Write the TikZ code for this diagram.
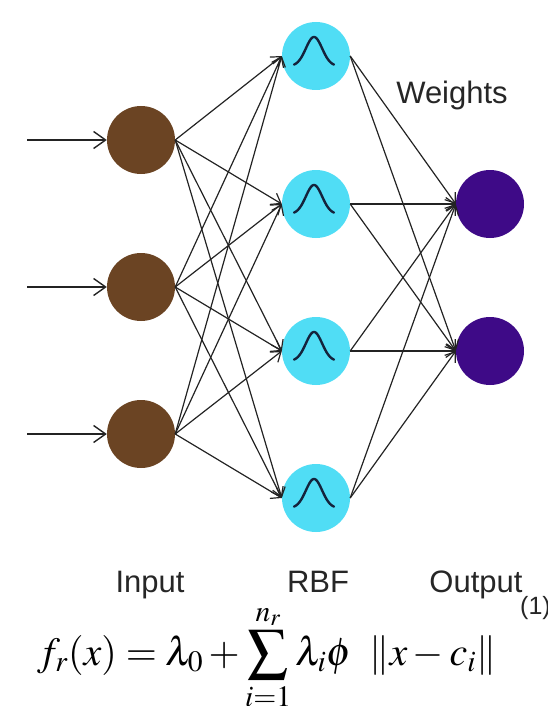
\documentclass[tikz,border=0pt]{standalone}
\usepackage{mathptmx}
\usepackage{fontspec}
\setmainfont{Liberation Sans}
\usetikzlibrary{arrows.meta}
\definecolor{inbrown}{RGB}{107,68,35}
\definecolor{rbfcyan}{RGB}{80,221,245}
\definecolor{outpurple}{RGB}{62,10,135}
\definecolor{linegray}{RGB}{35,35,35}
\definecolor{bellnavy}{RGB}{20,35,60}
\tikzset{
  neuron/.style={circle, minimum size=68pt, inner sep=0pt, draw=none},
  innode/.style={neuron, fill=inbrown},
  rbfnode/.style={neuron, fill=rbfcyan},
  outnode/.style={neuron, fill=outpurple},
  conn/.style={draw=linegray, line width=1.2pt, -{Straight Barb[length=9pt,width=13pt,line width=1.2pt]}},
  inarrow/.style={draw=linegray, line width=1.4pt, -{Straight Barb[length=12pt,width=17pt,line width=1.4pt]}},
  bell/.style={draw=bellnavy, line width=2.4pt, line cap=round},
  lbl/.style={font=\fontsize{31}{36}\selectfont, text=black!85, inner sep=0pt}
}
\begin{document}
\begin{tikzpicture}[x=1pt,y=-1pt]
\useasboundingbox (0,0) rectangle (548,706);
% nodes
\node[innode] (in1) at (141,140) {};
\node[innode] (in2) at (141,287) {};
\node[innode] (in3) at (141,434) {};
\node[rbfnode] (rbf1) at (316,56) {};
\node[rbfnode] (rbf2) at (316,204) {};
\node[rbfnode] (rbf3) at (316,351) {};
\node[rbfnode] (rbf4) at (316,498) {};
\node[outnode] (out1) at (490,204) {};
\node[outnode] (out2) at (490,351) {};
% bell curves
\foreach \j in {1,...,4}{
  \begin{scope}[shift={(rbf\j.center)}]
    \draw[bell] plot[domain=-22:18, samples=60, smooth] (\x, {10 - 29*exp(-((\x+2)/11.5)^2)});
  \end{scope}
}
% input arrows
\coordinate (s1) at (27,140);
\coordinate (s2) at (27,287);
\coordinate (s3) at (27,434);
\foreach \i in {1,2,3}{
  \draw[inarrow] (s\i) -- (in\i.west);
}
% input to rbf
\foreach \i in {1,2,3}{
  \foreach \j in {1,...,4}{
    \draw[conn] (in\i.east) -- (rbf\j.west);
  }
}
% rbf to output
\foreach \j in {1,...,4}{
  \foreach \k in {1,2}{
    \draw[conn] (rbf\j.east) -- (out\k.west);
  }
}
% labels
\node[lbl, anchor=base] (wlbl) at (452,104) {Weights};
\node[lbl, anchor=base] (ilbl) at (150,592) {Input};
\node[lbl, anchor=base] (rlbl) at (318,592) {RBF};
\node[lbl, anchor=base] (olbl) at (476,592) {Output};
% formula
\node[anchor=base west, inner sep=0pt, font=\fontsize{40}{44}\selectfont] (eq) at (37,665)
  {$\displaystyle f_r(x) = \lambda_0 + \sum_{i=1}^{n_r}\lambda_i\phi\;\;\|x-c_i\|$};
\node[anchor=base west, inner sep=0pt, font=\fontsize{25}{30}\selectfont, text=black!85] (eqno) at (520,614) {(1)};
\end{tikzpicture}
\end{document}
